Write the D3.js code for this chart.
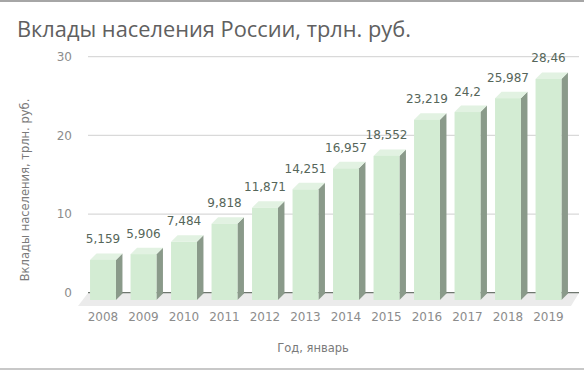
<!DOCTYPE html>
<html>
<head>
<meta charset="utf-8">
<script src="https://cdn.jsdelivr.net/npm/d3@7"></script>
<style>
  body { margin: 0; background: #fff; }
  text { font-family: "DejaVu Sans", Verdana, sans-serif; }
</style>
</head>
<body>
<div id="chart"></div>
<script>
// data
var years = ["2008", "2009", "2010", "2011", "2012", "2013", "2014", "2015", "2016", "2017", "2018", "2019"];
var deposits = [5.159, 5.906, 7.484, 9.818, 11.871, 14.251, 16.957, 18.552, 23.219, 24.2, 25.987, 28.46];
var depositLabels = ["5,159", "5,906", "7,484", "9,818", "11,871", "14,251", "16,957", "18,552", "23,219", "24,2", "25,987", "28,46"];
var yTicks = [0, 10, 20, 30];

var width = 584, height = 372;
var depthX = 6.5, depthY = 6.5;

var svg = d3.select("#chart")
	.append("svg")
	.attr("width", width)
	.attr("height", height);

// frame lines
svg.append("rect").attr("x", 0).attr("y", 0).attr("width", width).attr("height", 2).attr("fill", "#a6a6a6");
svg.append("rect").attr("x", 0).attr("y", 368).attr("width", width).attr("height", 2).attr("fill", "#c8c8c8");

// title
svg.append("text")
	.attr("x", 17)
	.attr("y", 37)
	.attr("font-size", 21.8)
	.attr("fill", "#606060")
	.style("font-family", "'Open Sans', sans-serif")
	.text("Вклады населения России, трлн. руб.");

// scales
var x = d3.scaleBand()
	.domain(years)
	.range([82.75, 568.75])
	.paddingInner(0.36)
	.paddingOuter(0.18);

// front face of the bars
var y = d3.scaleLinear()
	.domain([0, 30])
	.range([300, 67]);

// back wall (gridlines)
var yBack = d3.scaleLinear()
	.domain([0, 30])
	.range([292.7, 56.7]);

// floor
svg.append("polygon")
	.attr("points", [[88, 293], [579, 293], [571, 306], [78, 306]].join(" "))
	.attr("fill", "#ebebeb");

// gridlines
svg.selectAll(".grid")
	.data(yTicks.filter(function(d) { return d > 0; }))
	.enter()
	.append("line")
	.attr("class", "grid")
	.attr("x1", 88)
	.attr("x2", 579)
	.attr("y1", function(d) { return yBack(d); })
	.attr("y2", function(d) { return yBack(d); })
	.attr("stroke", "#d9d9d9")
	.attr("stroke-width", 1.2);

// dark base line on the back wall
svg.append("line")
	.attr("x1", 88)
	.attr("x2", 579)
	.attr("y1", yBack(0))
	.attr("y2", yBack(0))
	.attr("stroke", "#6f776f")
	.attr("stroke-width", 1.3);

// y tick labels
svg.selectAll(".ytick")
	.data(yTicks)
	.enter()
	.append("text")
	.attr("class", "ytick")
	.attr("x", 72)
	.attr("y", function(d) { return yBack(d); })
	.attr("dy", "0.35em")
	.attr("text-anchor", "end")
	.attr("font-size", 12)
	.attr("fill", "#8c8c8c")
	.text(function(d) { return d; });

// y axis title
svg.append("text")
	.attr("transform", "translate(29,190) rotate(-90)")
	.attr("text-anchor", "middle")
	.attr("font-size", 11.5)
	.attr("fill", "#7a7a7a")
	.text("Вклады населения, трлн. руб.");

// bars
var bars = svg.selectAll(".bar")
	.data(years)
	.enter()
	.append("g")
	.attr("class", "bar");

var bw = x.bandwidth();

// side face
bars.append("polygon")
	.attr("points", function(d, i) {
		var x1 = x(d) + bw, top = y(deposits[i]), bot = y(0);
		return [[x1, top], [x1 + depthX, top - depthY], [x1 + depthX, bot - depthY], [x1, bot]].join(" ");
	})
	.attr("fill", "#8a9a8a");

// top face
bars.append("polygon")
	.attr("points", function(d, i) {
		var x0 = x(d), top = y(deposits[i]);
		return [[x0, top], [x0 + bw, top], [x0 + bw + depthX, top - depthY], [x0 + depthX, top - depthY]].join(" ");
	})
	.attr("fill", "#e2f2e2");

// front face
bars.append("rect")
	.attr("x", function(d) { return x(d); })
	.attr("y", function(d, i) { return y(deposits[i]); })
	.attr("width", bw)
	.attr("height", function(d, i) { return y(0) - y(deposits[i]); })
	.attr("fill", "#d3ecd3");

// value labels
bars.append("text")
	.attr("x", function(d) { return x(d) + bw / 2; })
	.attr("y", function(d, i) { return y(deposits[i]) - depthY - 10; })
	.attr("text-anchor", "middle")
	.attr("font-size", 12)
	.attr("fill", "#56665a")
	.text(function(d, i) { return depositLabels[i]; });

// x tick labels
svg.selectAll(".xtick")
	.data(years)
	.enter()
	.append("text")
	.attr("class", "xtick")
	.attr("x", function(d) { return x(d) + bw / 2; })
	.attr("y", 321)
	.attr("text-anchor", "middle")
	.attr("font-size", 12)
	.attr("fill", "#8c8c8c")
	.text(function(d) { return d; });

// x axis title
svg.append("text")
	.attr("x", 313)
	.attr("y", 352)
	.attr("text-anchor", "middle")
	.attr("font-size", 11.5)
	.attr("fill", "#7a7a7a")
	.text("Год, январь");
</script>
</body>
</html>
